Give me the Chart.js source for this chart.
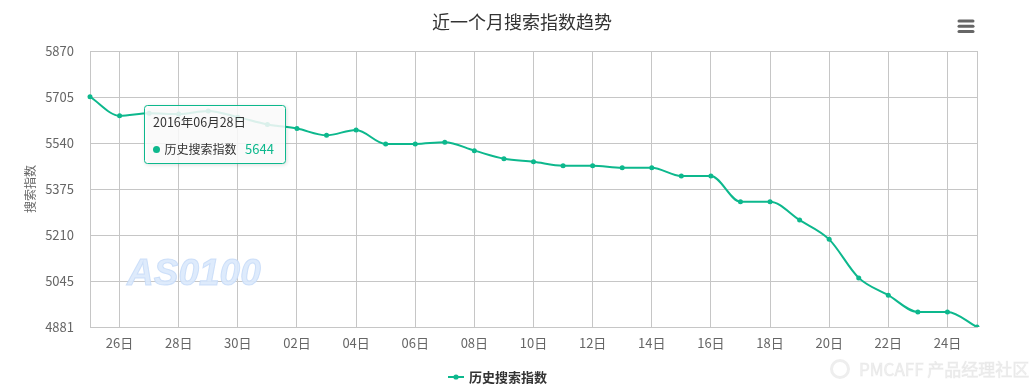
<!DOCTYPE html>
<html><head><meta charset="utf-8">
<script src="https://cdn.jsdelivr.net/npm/chart.js@4.4.0/dist/chart.umd.min.js"></script>
<style>html,body{margin:0;padding:0;background:#fff;}#wrap{width:1031px;height:390px;position:relative;}</style>
</head><body><div id="wrap"><canvas id="c" width="1031" height="390"></canvas></div>
<script>
const chartTitle = '近一个月搜索指数趋势';
const seriesName = '历史搜索指数';
const yAxisTitle = '搜索指数';
const fullDates = ['2016年06月25日','2016年06月26日','2016年06月27日','2016年06月28日','2016年06月29日','2016年06月30日',
  '2016年07月01日','2016年07月02日','2016年07月03日','2016年07月04日','2016年07月05日','2016年07月06日','2016年07月07日',
  '2016年07月08日','2016年07月09日','2016年07月10日','2016年07月11日','2016年07月12日','2016年07月13日','2016年07月14日',
  '2016年07月15日','2016年07月16日','2016年07月17日','2016年07月18日','2016年07月19日','2016年07月20日','2016年07月21日',
  '2016年07月22日','2016年07月23日','2016年07月24日','2016年07月25日'];
const dayLabels = ['25日','26日','27日','28日','29日','30日','01日','02日','03日','04日','05日','06日','07日','08日','09日','10日',
  '11日','12日','13日','14日','15日','16日','17日','18日','19日','20日','21日','22日','23日','24日','25日'];
const searchIndex = [5706,5638,5647,5644,5655,5633,5607,5592,5568,5587,5537,5537,5543,5513,5484,5473,
  5459,5459,5452,5452,5422,5422,5330,5330,5264,5195,5057,4995,4935,4935,4881];
const yTicks = [4881,5045,5210,5375,5540,5705,5870];
const tooltipIndex = 3;

const TEAL = '#0db88d';
const GRID = '#c6c6c6';
const FONT = "'Noto Sans CJK SC', 'Microsoft YaHei', sans-serif";

const decor = {
  id: 'decor',
  beforeDatasetsDraw(chart) {
    const ctx = chart.ctx;
    ctx.save();
    ctx.font = "italic bold 37px 'Liberation Sans', Arial, sans-serif";
    ctx.textBaseline = 'alphabetic';
    ctx.fillStyle = 'rgba(218,233,252,0.9)';
    ctx.strokeStyle = 'rgba(196,218,248,0.8)';
    ctx.lineWidth = 1;
    ctx.fillText('AS0100', 127, 285);
    ctx.strokeText('AS0100', 127, 285);
    ctx.restore();
  },
  afterDraw(chart) {
    const ctx = chart.ctx;
    ctx.save();
    // title
    ctx.font = '18px ' + FONT;
    ctx.fillStyle = '#333';
    ctx.textAlign = 'center';
    ctx.textBaseline = 'middle';
    ctx.fillText(chartTitle, 522, 22);
    // menu icon
    ctx.strokeStyle = '#666';
    ctx.lineWidth = 3;
    ctx.lineCap = 'round';
    [21, 26.3, 31.5].forEach(y => { ctx.beginPath(); ctx.moveTo(959, y); ctx.lineTo(973, y); ctx.stroke(); });
    // legend
    ctx.lineCap = 'butt';
    ctx.strokeStyle = TEAL; ctx.lineWidth = 2;
    ctx.beginPath(); ctx.moveTo(448, 377); ctx.lineTo(464, 377); ctx.stroke();
    ctx.fillStyle = TEAL; ctx.beginPath(); ctx.arc(456, 377, 2.6, 0, Math.PI*2); ctx.fill();
    ctx.textAlign = 'left';
    ctx.font = 'bold 13px ' + FONT;
    ctx.fillStyle = '#333';
    ctx.fillText(seriesName, 469, 377.5);
    // PMCAFF watermark
    ctx.font = '17px ' + FONT;
    ctx.fillStyle = '#f3f3f3';
    ctx.strokeStyle = 'rgba(0,0,0,0.05)';
    ctx.lineWidth = 1;
    ctx.fillText('PMCAFF 产品经理社区', 859, 370);
    ctx.strokeText('PMCAFF 产品经理社区', 859, 370);
    ctx.beginPath(); ctx.arc(840, 369, 8.5, 0, Math.PI*2);
    ctx.lineWidth = 3; ctx.strokeStyle = '#eeeeee'; ctx.stroke();

    // tooltip
    const pt = chart.getDatasetMeta(0).data[tooltipIndex];
    const bx = Math.round(pt.x - 34.5) + 0.5, by = Math.round(pt.y - 9) + 0.5, bw = 141, bh = 58;
    ctx.save();
    ctx.shadowColor = 'rgba(0,0,0,0.18)';
    ctx.shadowBlur = 4; ctx.shadowOffsetX = 1; ctx.shadowOffsetY = 1;
    ctx.fillStyle = 'rgba(255,255,255,0.85)';
    ctx.beginPath(); ctx.roundRect(bx, by, bw, bh, 3); ctx.fill();
    ctx.restore();
    ctx.strokeStyle = TEAL; ctx.lineWidth = 1;
    ctx.beginPath(); ctx.roundRect(bx, by, bw, bh, 3); ctx.stroke();
    ctx.textBaseline = 'middle';
    ctx.font = '12.5px ' + FONT;
    ctx.fillStyle = '#333';
    ctx.fillText(fullDates[tooltipIndex], bx + 8.5, by + 17);
    ctx.font = '12px ' + FONT;
    ctx.fillStyle = TEAL;
    ctx.beginPath(); ctx.arc(bx + 12, by + 44, 3.5, 0, Math.PI*2); ctx.fill();
    ctx.fillStyle = '#333';
    ctx.fillText(seriesName, bx + 20, by + 43.5);
    ctx.fillStyle = TEAL;
    ctx.font = '13px ' + FONT;
    ctx.fillText(String(searchIndex[tooltipIndex]), bx + 100.5, by + 43.5);
    ctx.restore();
  }
};

new Chart(document.getElementById('c'), {
  type: 'line',
  data: {
    labels: dayLabels,
    datasets: [{
      label: seriesName,
      data: searchIndex,
      borderColor: TEAL,
      backgroundColor: TEAL,
      borderWidth: 2,
      pointRadius: 2.5,
      pointBorderWidth: 0,
      pointBackgroundColor: TEAL,
      cubicInterpolationMode: 'monotone',
      fill: false
    }]
  },
  options: {
    responsive: false,
    animation: false,
    events: [],
    layout: { padding: { left: 17, right: 54, top: 51, bottom: 23 } },
    scales: {
      x: {
        offset: false,
        afterFit(s) { s.height = 40; },
        grid: {
          drawTicks: false,
          color: (c) => (c.index % 2 === 1 || c.index === dayLabels.length - 1) ? GRID : 'rgba(0,0,0,0)',
          lineWidth: 1
        },
        border: { display: true, color: GRID, width: 1 },
        ticks: {
          autoSkip: false, maxRotation: 0, padding: 8,
          color: '#666', font: { family: FONT, size: 13 },
          callback: function(v, i) { return i % 2 === 1 ? dayLabels[i] : ''; }
        }
      },
      y: {
        min: yTicks[0], max: yTicks[yTicks.length - 1],
        afterFit(s) { s.width = 73; },
        afterBuildTicks(s) { s.ticks = yTicks.map(v => ({ value: v })); },
        grid: { drawTicks: false, color: GRID, lineWidth: 1 },
        border: { display: true, color: GRID, width: 1 },
        ticks: {
          padding: 16, color: '#666', font: { family: FONT, size: 13 },
          callback: (v) => String(v)
        },
        title: { display: true, text: yAxisTitle, color: '#666', font: { family: FONT, size: 12 }, padding: { top: 6, bottom: 0 } }
      }
    },
    plugins: {
      title: { display: false },
      tooltip: { enabled: false },
      legend: { display: false }
    }
  },
  plugins: [decor]
});
</script></body></html>
